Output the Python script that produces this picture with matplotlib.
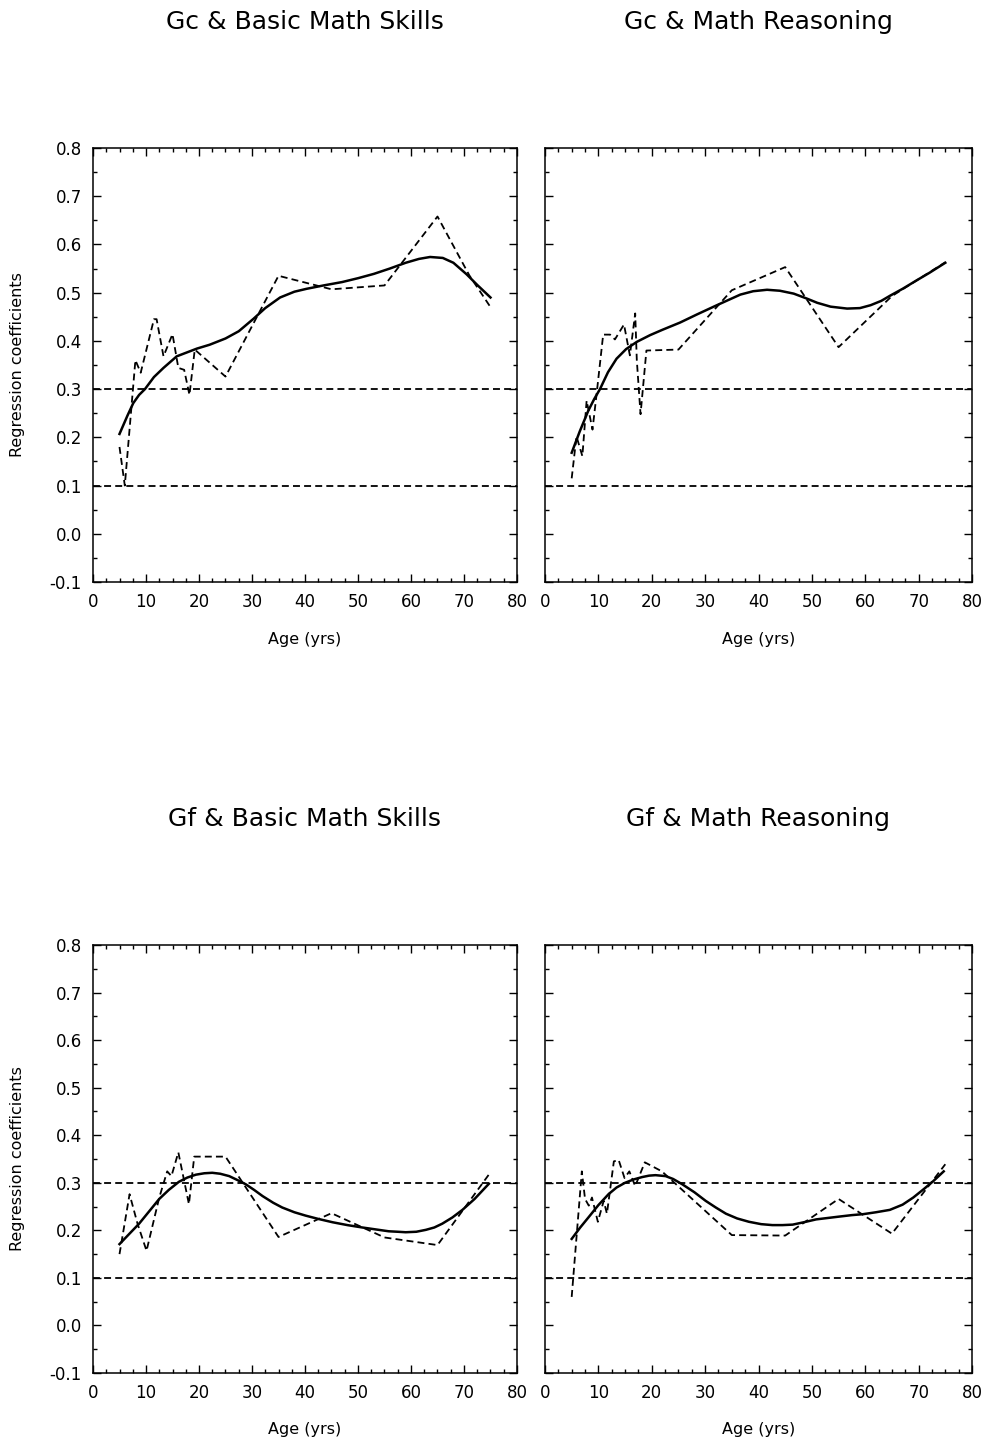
import matplotlib
matplotlib.use("Agg")
import matplotlib.pyplot as plt
from matplotlib.ticker import MultipleLocator

# Gc & Basic Math Skills
GC_BASIC_RAW_AGE = [5, 6, 8, 9, 11.5, 12, 13.3, 15, 16.1, 17.2, 18.2, 19.2, 25, 35, 45, 55, 65, 71, 75]
GC_BASIC_RAW_VAL = [0.18, 0.10, 0.36, 0.334, 0.445, 0.445, 0.368, 0.414, 0.344, 0.34, 0.288, 0.382,
                    0.326, 0.535, 0.507, 0.515, 0.658, 0.536, 0.47]
GC_BASIC_FIT_AGE = [5, 6.5, 7.6, 8.7, 9.8, 11.5, 13.3, 15.8, 19.6, 22, 25, 27.5, 30.3, 32.5, 35.3, 38,
                    40.3, 43.5, 47, 50, 53, 56, 59, 61.5, 63.6, 66, 68, 70.5, 72.5, 75]
GC_BASIC_FIT_VAL = [0.207, 0.245, 0.271, 0.288, 0.30, 0.325, 0.344, 0.368, 0.384, 0.392, 0.405, 0.42,
                    0.446, 0.468, 0.49, 0.502, 0.508, 0.515, 0.522, 0.53, 0.539, 0.55, 0.562, 0.57,
                    0.574, 0.572, 0.562, 0.538, 0.516, 0.49]

# Gc & Math Reasoning
GC_REASON_RAW_AGE = [5, 5.9, 7, 7.8, 8.9, 9.7, 10.9, 12.2, 13.1, 14.8, 15.9, 16.9, 17.2, 17.9, 19,
                     25, 35, 45, 55, 65, 75]
GC_REASON_RAW_VAL = [0.115, 0.202, 0.161, 0.276, 0.216, 0.293, 0.413, 0.413, 0.403, 0.434, 0.37,
                     0.457, 0.36, 0.248, 0.38, 0.382, 0.505, 0.553, 0.387, 0.493, 0.563]
GC_REASON_FIT_AGE = [5, 6.5, 8.1, 9.2, 10.3, 11.8, 13.4, 15.2, 17.2, 19.7, 22, 25.3, 28.5, 32.2, 36.6,
                     39, 41.6, 44, 46.6, 49, 51, 53.5, 56.6, 59, 61, 63, 64.7, 67, 69.7, 72, 75]
GC_REASON_FIT_VAL = [0.168, 0.212, 0.255, 0.279, 0.30, 0.335, 0.363, 0.383, 0.398, 0.412, 0.423,
                     0.438, 0.455, 0.474, 0.496, 0.503, 0.506, 0.504, 0.498, 0.488, 0.479, 0.471,
                     0.467, 0.468, 0.474, 0.483, 0.494, 0.508, 0.526, 0.541, 0.562]

# Gf & Basic Math Skills
GF_BASIC_RAW_AGE = [5, 6.9, 8.4, 10.1, 12.5, 14, 14.8, 16.1, 18.1, 19.1, 25, 35, 45, 55, 65, 75]
GF_BASIC_RAW_VAL = [0.15, 0.276, 0.214, 0.157, 0.269, 0.324, 0.314, 0.364, 0.255, 0.355, 0.355,
                    0.186, 0.236, 0.185, 0.169, 0.322]
GF_BASIC_FIT_AGE = [5, 6.8, 8.7, 10.6, 12.5, 14.3, 16.2, 17.8, 19.4, 21, 22.5, 24, 25.7, 27.2, 28.8,
                    30.4, 32, 34, 35.7, 38, 40.1, 42.5, 45.2, 48, 50.8, 53.3, 55.8, 57.5, 59, 61,
                    62.8, 64.4, 65.9, 67.8, 69.7, 72, 74.7]
GF_BASIC_FIT_VAL = [0.171, 0.192, 0.214, 0.24, 0.266, 0.285, 0.302, 0.311, 0.317, 0.32, 0.321, 0.319,
                    0.314, 0.306, 0.297, 0.285, 0.272, 0.258, 0.248, 0.238, 0.231, 0.224, 0.217,
                    0.211, 0.206, 0.202, 0.198, 0.197, 0.196, 0.197, 0.201, 0.206, 0.214, 0.227,
                    0.243, 0.266, 0.298]

# Gf & Math Reasoning
GF_REASON_RAW_AGE = [5, 6.9, 7.5, 8.2, 8.8, 9.9, 11, 11.6, 12.9, 13.8, 14.9, 15.8, 16.9, 18.7, 21.9,
                     35, 45, 55, 65, 75]
GF_REASON_RAW_VAL = [0.06, 0.324, 0.266, 0.252, 0.269, 0.218, 0.262, 0.235, 0.345, 0.348, 0.31,
                     0.324, 0.293, 0.343, 0.324, 0.19, 0.189, 0.266, 0.193, 0.339]
GF_REASON_FIT_AGE = [5, 6.6, 8.2, 10, 11.9, 13.4, 15, 16.6, 18.2, 19.5, 20.7, 22.6, 24, 25.7, 28,
                     30.1, 32, 33.9, 36, 38.2, 40.5, 42.6, 44.5, 46.4, 48.5, 50.8, 53, 55.2, 57.5,
                     59.6, 62, 64.6, 67, 69, 71, 72.7, 74.7]
GF_REASON_FIT_VAL = [0.182, 0.206, 0.228, 0.253, 0.276, 0.29, 0.30, 0.307, 0.312, 0.315, 0.316, 0.314,
                     0.308, 0.297, 0.28, 0.262, 0.248, 0.235, 0.225, 0.218, 0.213, 0.211, 0.211,
                     0.212, 0.217, 0.223, 0.226, 0.229, 0.232, 0.234, 0.238, 0.243, 0.254, 0.269,
                     0.287, 0.303, 0.324]

PANELS = [
    ("Gc & Basic Math Skills", GC_BASIC_RAW_AGE, GC_BASIC_RAW_VAL, GC_BASIC_FIT_AGE, GC_BASIC_FIT_VAL),
    ("Gc & Math Reasoning", GC_REASON_RAW_AGE, GC_REASON_RAW_VAL, GC_REASON_FIT_AGE, GC_REASON_FIT_VAL),
    ("Gf & Basic Math Skills", GF_BASIC_RAW_AGE, GF_BASIC_RAW_VAL, GF_BASIC_FIT_AGE, GF_BASIC_FIT_VAL),
    ("Gf & Math Reasoning", GF_REASON_RAW_AGE, GF_REASON_RAW_VAL, GF_REASON_FIT_AGE, GF_REASON_FIT_VAL),
]
REFERENCE_LEVELS = [0.3, 0.1]

W, H = 990, 1442
# axes boxes in pixels: left, right, top, bottom
BOXES = [
    (93, 517, 148, 582),
    (545, 972, 148, 582),
    (93, 517, 945, 1373),
    (545, 972, 945, 1373),
]
DASHES = (5, 3)

plt.rcParams["font.family"] = "DejaVu Sans"
plt.rcParams["lines.scale_dashes"] = False

fig = plt.figure(figsize=(W / 100, H / 100), dpi=100)

for i, (box, (title, raw_x, raw_y, fit_x, fit_y)) in enumerate(zip(BOXES, PANELS)):
    l, r, t, b = box
    ax = fig.add_axes([l / W, 1 - b / H, (r - l) / W, (b - t) / H])
    for level in REFERENCE_LEVELS:
        ax.axhline(level, color="black", linewidth=1.3, dashes=DASHES)
    ax.plot(raw_x, raw_y, color="black", linewidth=1.3, dashes=DASHES)
    ax.plot(fit_x, fit_y, color="black", linewidth=1.8)

    ax.set_xlim(0, 80)
    ax.set_ylim(-0.1, 0.8)
    ax.xaxis.set_major_locator(MultipleLocator(10))
    ax.xaxis.set_minor_locator(MultipleLocator(2.5))
    ax.yaxis.set_major_locator(MultipleLocator(0.1))
    ax.yaxis.set_minor_locator(MultipleLocator(0.05))
    ax.tick_params(which="both", direction="in", top=True, right=True, width=1.0)
    ax.tick_params(which="major", length=6, labelsize=12, pad=8)
    ax.tick_params(which="minor", length=3)
    for spine in ax.spines.values():
        spine.set_linewidth(1.1)

    if i % 2 == 0:
        ax.set_yticklabels([f"{v:.1f}" for v in ax.get_yticks()])
        fig.text(18 / W, 1 - (t + b) / 2 / H, "Regression coefficients", rotation=90,
                 ha="center", va="center", fontsize=11.5)
    else:
        ax.set_yticklabels([])

    ax.set_xlabel("Age (yrs)", fontsize=11.5)
    ax.xaxis.set_label_coords(0.5, -0.115)
    ax.text(0.5, (b - (t - 126)) / (b - t), title, transform=ax.transAxes,
            ha="center", va="center", fontsize=18)

fig.savefig("out.png", dpi=100)
